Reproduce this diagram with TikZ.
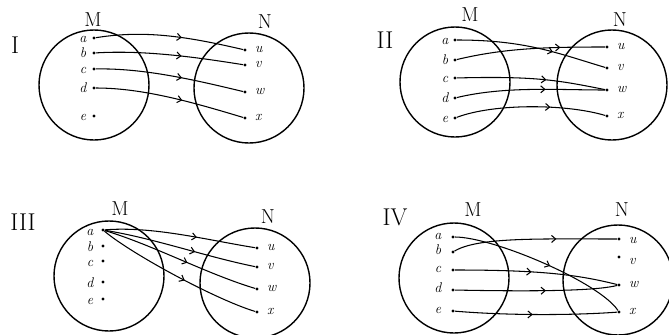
\documentclass[tikz,border=0pt]{standalone}
\usepackage{tikz}
\usetikzlibrary{arrows.meta, decorations.markings}

\begin{document}
\begin{tikzpicture}[x=0.03cm, y=-0.03cm,
    set/.style={circle, draw, line width=1.2pt, minimum size=3.3cm},
    setlbl/.style={font=\LARGE},
    num/.style={font=\huge},
    elt/.style={font=\large\itshape, anchor=mid},
    img/.style={font=\large\itshape, anchor=mid west},
    pt/.style={circle, fill, inner sep=0pt, minimum size=2.8pt},
    map/.style={line width=0.9pt, postaction={decorate},
                decoration={markings, mark=at position #1 with
                  {\arrow{Straight Barb[length=3.5pt, width=6pt]}}}},
    map/.default=0.58
  ]
  \useasboundingbox (0,0) rectangle (669,334);
  \clip (0,0) rectangle (669,334);

  % Diagram I
  \node[num] (r1) at (15,45) {I};
  \node[set] (M1) at (94,85) {};
  \node[set] (N1) at (249,88) {};
  \node[setlbl] (lM1) at (93,20) {M};
  \node[setlbl] (lN1) at (265,22) {N};
  \foreach \e/\y in {a/40, b/55, c/71, d/90, e/118}{
    \node[elt] (t1\e) at (83,\y) {\e};
    \node[pt] (m1\e) at (94,\y-2) {};
  }
  \foreach \e/\y in {u/50, v/65, w/92, x/118}{
    \node[pt] (n1\e) at (245,\y) {};
    \node[img] (s1\e) at (251,\y) {\e};
  }
  \draw[map] (m1a) .. controls +(50,-8) and +(-60,-14) .. (n1u);
  \draw[map] (m1b) .. controls +(50,-3) and +(-50,-8) .. (n1v);
  \draw[map] (m1c) .. controls +(50,-1) and +(-50,-12) .. (n1w);
  \draw[map] (m1d) .. controls +(50,0) and +(-50,-15) .. (n1x);

  % Diagram II
  \node[num] (r2) at (385,40) {II};
  \node[set] (M2) at (455,82) {};
  \node[set] (N2) at (612,85) {};
  \node[setlbl] (lM2) at (470,15) {M};
  \node[setlbl] (lN2) at (620,20) {N};
  \foreach \e/\y in {a/42, b/62, c/80, d/100, e/120}{
    \node[elt] (t2\e) at (445,\y) {\e};
    \node[pt] (m2\e) at (455,\y-2) {};
  }
  \foreach \e/\y in {u/47, v/68, w/90, x/116}{
    \node[pt] (n2\e) at (607,\y) {};
    \node[img] (s2\e) at (613,\y) {\e};
  }
  \draw[map=0.64] (m2a) .. controls +(70,0) and +(-50,-15) .. (n2v);
  \draw[map=0.7] (m2b) .. controls +(50,-12) and +(-60,0) .. (n2u);
  \draw[map=0.6] (m2c) .. controls +(80,-2) and +(-50,-10) .. (n2w);
  \draw[map=0.6] (m2d) .. controls +(50,-12) and +(-50,0) .. (n2w);
  \draw[map=0.63] (m2e) .. controls +(40,-15) and +(-40,-12) .. (n2x);

  % Diagram III
  \node[num] (r3) at (23,222) {III};
  \node[set] (M3) at (109,276) {};
  \node[set] (N3) at (255,283) {};
  \node[setlbl] (lM3) at (120,209) {M};
  \node[setlbl] (lN3) at (268,217) {N};
  \foreach \e/\y in {a/233, b/249, c/264, d/285, e/302}{
    \node[elt] (t3\e) at (90,\y) {\e};
    \node[pt] (m3\e) at (103,\y-3) {};
  }
  \foreach \e/\y in {u/248, v/267, w/289, x/312}{
    \node[pt] (n3\e) at (257,\y) {};
    \node[img] (s3\e) at (263,\y) {\e};
  }
  \draw[map=0.61] (m3a) .. controls +(50,-4) and +(-50,-8) .. (n3u);
  \draw[map=0.6] (m3a) .. controls +(50,8) and +(-50,-10) .. (n3v);
  \draw[map=0.55] (m3a) .. controls +(50,15) and +(-50,-15) .. (n3w);
  \draw[map=0.55] (m3a) .. controls +(30,25) and +(-40,-12) .. (n3x);

  % Diagram IV
  \node[num] (r4) at (395,217) {IV};
  \node[set] (M4) at (454,278) {};
  \node[set] (N4) at (618,280) {};
  \node[setlbl] (lM4) at (473,210) {M};
  \node[setlbl] (lN4) at (622,210) {N};
  \foreach \e/\y in {a/237, b/252, c/270, d/290, e/311}{
    \node[elt] (t4\e) at (438,\y) {\e};
    \node[pt] (m4\e) at (453,\y) {};
  }
  \foreach \e/\y/\ly in {u/239/241, v/257/262, w/285/285, x/312/312}{
    \node[pt] (n4\e) at (619,\y) {};
    \node[img] (s4\e) at (625,\ly) {\e};
  }
  \draw[map=0.63] (m4b) .. controls +(25,-15) and +(-80,0) .. (n4u);
  \draw[map=0.55] (m4a) .. controls +(40,0) and +(-20,-30) .. (n4x);
  \draw[map=0.47] (m4c) .. controls +(90,0) and +(-40,-10) .. (n4w);
  \draw[map=0.56] (m4d) .. controls +(100,2) and +(-20,5) .. (n4w);
  \draw[map=0.48] (m4e) .. controls +(60,5) and +(-40,3) .. (n4x);
\end{tikzpicture}
\end{document}
